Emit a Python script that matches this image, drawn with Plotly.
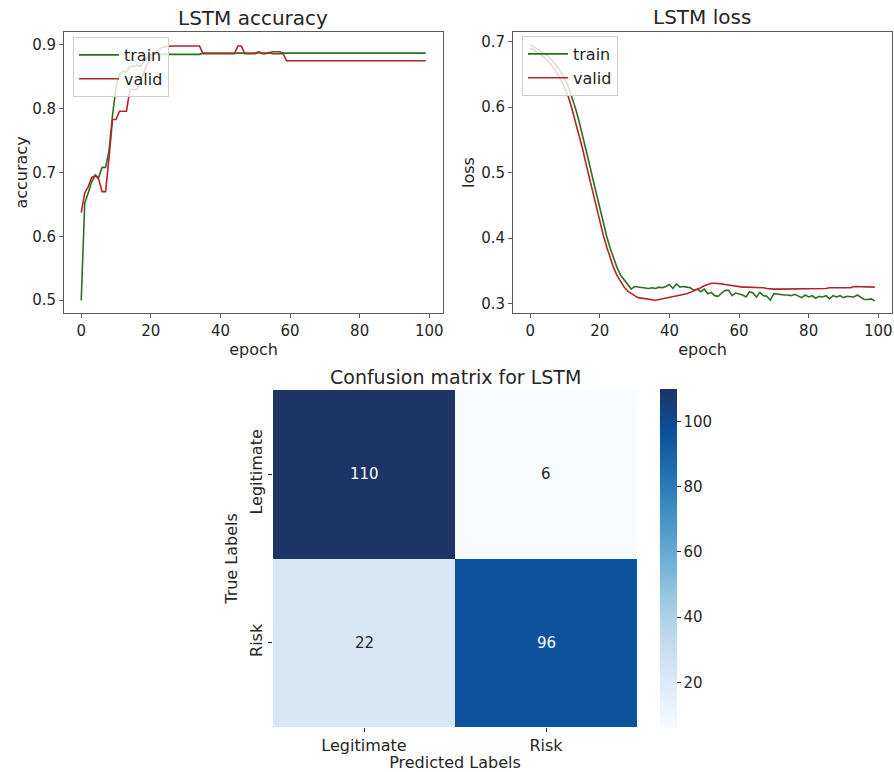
import plotly.graph_objects as go

# ---- training history -------------------------------------------------
epochs = list(range(100))

train_acc = ([0.500, 0.652, 0.668, 0.685, 0.696, 0.692, 0.708, 0.708, 0.735, 0.790,
              0.833, 0.855, 0.858, 0.858, 0.866, 0.866, 0.868, 0.866, 0.874, 0.880]
             + [0.885] * 15
             + [0.887] * 16 + [0.889] + [0.887] * 3 + [0.889] * 3 + [0.887] * 2
             + [0.887] * 40)

valid_acc = ([0.637, 0.668, 0.678, 0.692, 0.695, 0.690, 0.670, 0.670, 0.724, 0.783,
              0.783, 0.796, 0.796, 0.796, 0.830, 0.830, 0.830, 0.843, 0.858, 0.870,
              0.879, 0.886, 0.891, 0.895, 0.897]
             + [0.898] * 10
             + [0.886] * 10
             + [0.898, 0.898]
             + [0.886] * 4 + [0.888] + [0.886] * 2 + [0.888] + [0.886] * 4
             + [0.875] * 41)

train_loss = [0.695, 0.692, 0.689, 0.686, 0.682, 0.678, 0.673, 0.667, 0.660, 0.652,
              0.642, 0.630, 0.615, 0.598, 0.579, 0.558, 0.536, 0.513, 0.490, 0.467,
              0.444, 0.422, 0.402, 0.384, 0.368, 0.354, 0.343, 0.336, 0.330, 0.322,
              0.326, 0.325, 0.324, 0.324, 0.323, 0.324, 0.323, 0.325, 0.324, 0.326,
              0.329, 0.323, 0.330, 0.325, 0.326, 0.325, 0.324, 0.320, 0.322, 0.318,
              0.322, 0.315, 0.317, 0.312, 0.311, 0.316, 0.320, 0.320, 0.312, 0.316,
              0.315, 0.313, 0.310, 0.318, 0.316, 0.310, 0.317, 0.312, 0.311, 0.305,
              0.315, 0.314, 0.314, 0.313, 0.313, 0.312, 0.314, 0.311, 0.309, 0.313,
              0.310, 0.312, 0.308, 0.311, 0.310, 0.312, 0.307, 0.312, 0.310, 0.312,
              0.309, 0.311, 0.311, 0.310, 0.313, 0.309, 0.306, 0.306, 0.307, 0.304]

valid_loss = ([0.690, 0.687, 0.684, 0.680, 0.676, 0.671, 0.665, 0.658, 0.650, 0.640,
               0.628, 0.615, 0.597, 0.578, 0.558, 0.537, 0.514, 0.492, 0.469, 0.446,
               0.423, 0.404, 0.386, 0.369, 0.354, 0.342, 0.333, 0.325, 0.319, 0.315,
               0.312, 0.309, 0.308, 0.307, 0.306, 0.305, 0.305, 0.306, 0.307, 0.309,
               0.310, 0.311, 0.312, 0.313, 0.314, 0.315, 0.317, 0.319, 0.321, 0.324,
               0.327, 0.329, 0.331, 0.331, 0.331, 0.330, 0.329, 0.328, 0.327, 0.326]
              + [0.326, 0.325, 0.325, 0.325, 0.325, 0.325, 0.324, 0.324, 0.323]
              + [0.322] * 7 + [0.323] * 10 + [0.324] * 7
              + [0.326] * 4 + [0.325] * 3)

# ---- confusion matrix -------------------------------------------------
class_labels = ["Legitimate", "Risk"]
conf_matrix = [[110, 6],
               [22, 96]]
cbar_ticks = [20, 40, 60, 80, 100]

GREEN = "#2f6e22"
RED = "#b3242a"
TXT = "#262626"
FRAME = "#5a5a5a"
FONT = "DejaVu Sans"

blues = [[0.0, "#f7fbff"], [0.125, "#deebf7"], [0.25, "#c6dbef"], [0.375, "#9ecae1"],
         [0.5, "#6baed6"], [0.625, "#4292c6"], [0.75, "#2171b5"], [0.875, "#0b4f9a"],
         [1.0, "#1c3466"]]

W, H = 894, 772


def px_x(p):
    return p / W


def px_y(p):
    return 1 - p / H


fig = go.Figure()

fig.add_trace(go.Scatter(x=epochs, y=train_acc, name="train", mode="lines",
                         line=dict(color=GREEN, width=1.6), xaxis="x", yaxis="y",
                         legend="legend"))
fig.add_trace(go.Scatter(x=epochs, y=valid_acc, name="valid", mode="lines",
                         line=dict(color=RED, width=1.6), xaxis="x", yaxis="y",
                         legend="legend"))
fig.add_trace(go.Scatter(x=epochs, y=train_loss, name="train", mode="lines",
                         line=dict(color=GREEN, width=1.6), xaxis="x2", yaxis="y2",
                         legend="legend2"))
fig.add_trace(go.Scatter(x=epochs, y=valid_loss, name="valid", mode="lines",
                         line=dict(color=RED, width=1.6), xaxis="x2", yaxis="y2",
                         legend="legend2"))

fig.add_trace(go.Heatmap(
    z=conf_matrix, x=class_labels, y=class_labels, xaxis="x3", yaxis="y3",
    colorscale=blues, zmin=min(min(r) for r in conf_matrix),
    zmax=max(max(r) for r in conf_matrix), showlegend=False, hoverinfo="skip",
    colorbar=dict(x=px_x(660), xanchor="left", xpad=0, ypad=0,
                  y=px_y(389), yanchor="top",
                  len=(728 - 389) / H, lenmode="fraction", thickness=17,
                  outlinewidth=0, tickvals=cbar_ticks, ticks="outside",
                  ticklen=4, tickcolor=TXT,
                  tickfont=dict(family=FONT, size=15, color=TXT)),
))

zmax = max(max(r) for r in conf_matrix)
annotations = []
for i, row_lab in enumerate(class_labels):
    for j, col_lab in enumerate(class_labels):
        v = conf_matrix[i][j]
        annotations.append(dict(
            x=col_lab, y=row_lab, xref="x3", yref="y3", text=str(v), showarrow=False,
            font=dict(family=FONT, size=15, color="white" if v > zmax / 2 else TXT)))

annotations += [
    dict(text="LSTM accuracy", x=px_x(253), y=px_y(18), xref="paper", yref="paper",
         xanchor="center", yanchor="middle", showarrow=False,
         font=dict(family=FONT, size=20, color=TXT)),
    dict(text="LSTM loss", x=px_x(702), y=px_y(17), xref="paper", yref="paper",
         xanchor="center", yanchor="middle", showarrow=False,
         font=dict(family=FONT, size=20, color=TXT)),
    dict(text="Confusion matrix for LSTM", x=px_x(455), y=px_y(377), xref="paper",
         yref="paper", xanchor="center", yanchor="middle", showarrow=False,
         font=dict(family=FONT, size=19, color=TXT)),
]

line_axis = dict(showline=True, mirror=True, linecolor=FRAME, linewidth=1,
                 ticks="outside", ticklen=4, tickcolor=FRAME, showgrid=False,
                 zeroline=False, tickfont=dict(family=FONT, size=15, color=TXT))

x_range = [-4.95, 103.95]

legend_style = dict(bgcolor="rgba(255,255,255,0.8)", bordercolor="#d0d0d0",
                    borderwidth=1, font=dict(family=FONT, size=16, color=TXT),
                    xanchor="left", yanchor="top", tracegroupgap=0, itemwidth=40)

fig.update_layout(
    width=W, height=H, margin=dict(l=0, r=0, t=0, b=0),
    paper_bgcolor="white", plot_bgcolor="white",
    font=dict(family=FONT, color=TXT),
    xaxis=dict(line_axis, domain=[px_x(64), px_x(443)], range=x_range,
               tickvals=[0, 20, 40, 60, 80, 100], anchor="y",
               title=dict(text="epoch", font=dict(family=FONT, size=16, color=TXT),
                          standoff=2)),
    yaxis=dict(line_axis, domain=[px_y(313), px_y(32)], range=[0.48, 0.92],
               tickvals=[0.5, 0.6, 0.7, 0.8, 0.9], anchor="x",
               title=dict(text="accuracy", font=dict(family=FONT, size=16, color=TXT),
                          standoff=0)),
    xaxis2=dict(line_axis, domain=[px_x(513), px_x(892)], range=x_range,
                tickvals=[0, 20, 40, 60, 80, 100], anchor="y2",
                title=dict(text="epoch", font=dict(family=FONT, size=16, color=TXT),
                           standoff=2)),
    yaxis2=dict(line_axis, domain=[px_y(313), px_y(32)], range=[0.2855, 0.7145],
                tickvals=[0.3, 0.4, 0.5, 0.6, 0.7], anchor="x2",
                title=dict(text="loss", font=dict(family=FONT, size=16, color=TXT),
                           standoff=2)),
    xaxis3=dict(domain=[px_x(273), px_x(637)], anchor="y3", showgrid=False,
                zeroline=False, showline=False, ticks="outside", ticklen=4,
                tickcolor=TXT, tickfont=dict(family=FONT, size=16, color=TXT),
                title=dict(text="Predicted Labels",
                           font=dict(family=FONT, size=16, color=TXT), standoff=0)),
    yaxis3=dict(domain=[px_y(727), px_y(390)], anchor="x3", autorange="reversed",
                showgrid=False, zeroline=False, showline=False, ticks="outside",
                ticklen=4, tickcolor=TXT, tickangle=-90,
                tickfont=dict(family=FONT, size=16, color=TXT),
                title=dict(text="True Labels",
                           font=dict(family=FONT, size=16, color=TXT), standoff=4)),
    legend=dict(legend_style, x=px_x(73), y=px_y(37)),
    legend2=dict(legend_style, x=px_x(522), y=px_y(36)),
    annotations=annotations,
)

fig.write_html("out.html")
